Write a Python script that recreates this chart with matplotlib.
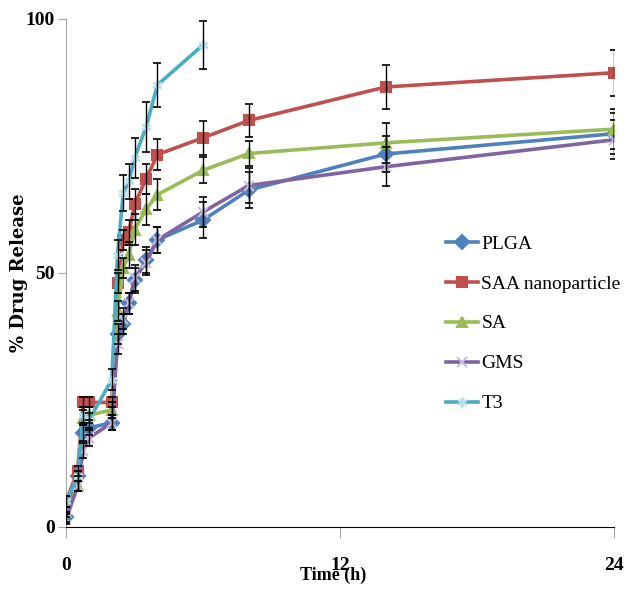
import matplotlib
matplotlib.use("Agg")
import matplotlib.pyplot as plt

# sampling times (h)
time = [0, 0.5, 0.75, 1, 2, 2.25, 2.5, 2.75, 3, 3.5, 4, 6, 8, 14, 24]
time_t3 = time[:12]

# % drug release per formulation
plga = [2, 10, 18.5, 19.5, 20.5, 38, 40, 44, 48.5, 52.5, 56.5, 60.4, 66.3, 73.4, 77.4]
saa = [5, 11, 24.5, 24.5, 24.5, 48, 56.5, 58, 63.5, 68.5, 73.3, 76.6, 80, 86.6, 89.4]
sa = [3, 8, 21.5, 22, 23, 42.5, 51, 53.5, 58.5, 62.5, 65.4, 70.2, 73.5, 75.6, 78.3]
gms = [1.5, 8, 15, 17.5, 20.5, 36, 41, 44, 49, 52, 56.5, 62, 67.2, 70.9, 76.2]
t3 = [5, 10, 22, 21, 29, 53.5, 65.7, 68, 72.6, 78.7, 87, 94.9]

# standard deviations (error bars)
plga_err = [1, 1, 1.5, 1.5, 1.5, 2, 2, 2, 2.5, 2.5, 2.5, 3.5, 3.5, 3.6, 4]
saa_err = [1, 1, 1, 1, 1, 2, 2, 2.5, 3, 3, 3, 3.3, 3.3, 4.4, 4.5]
sa_err = [1, 1, 1.5, 1.5, 1.5, 2, 2, 2.5, 3, 3, 3, 2.6, 2.5, 3.9, 4]
gms_err = [1, 1, 1.5, 1.5, 1.5, 2, 2, 2, 2.5, 2.5, 2.5, 3, 3.5, 3.8, 3.8]
t3_err = [1, 1, 1.5, 1.5, 2, 3, 3.5, 3.5, 3.9, 5, 4.4, 4.7]

series = [
    ("PLGA", time, plga, plga_err, "#4F81BD", "D", "#4F81BD"),
    ("SAA nanoparticle", time, saa, saa_err, "#C0504D", "s", "#C0504D"),
    ("SA", time, sa, sa_err, "#9BBB59", "^", "#9BBB59"),
    ("GMS", time, gms, gms_err, "#8064A2", "x", "#C9BEDD"),
    ("T3", time_t3, t3, t3_err, "#4BACC6", (6, 2, 0), "#B7E1EC"),
]

plt.rcParams["font.family"] = ["Liberation Serif", "DejaVu Serif"]

fig = plt.figure(figsize=(6.24, 5.90), dpi=100)
ax = fig.add_axes([0.106, 0.107, 0.878, 0.861])

for name, x, y, e, c, m, mc in series:
    ax.plot(x, y, color=c, lw=2.6, marker=m, ms=7, mfc=mc, mec=mc, mew=1.5,
            label=name, zorder=3)
    ax.errorbar(x, y, yerr=e, fmt="none", ecolor="black", elinewidth=1,
                capsize=3, capthick=1.2, zorder=4)

ax.set_xlim(0, 24)
ax.set_ylim(0, 100)
ax.set_xticks([0, 12, 24])
ax.set_yticks([0, 50, 100])
for s in ("top", "right"):
    ax.spines[s].set_visible(False)
ax.spines["left"].set_color("#a6a6a6")
ax.spines["bottom"].set_color("black")
ax.tick_params(axis="y", direction="out", length=6, color="#a6a6a6", pad=2,
               labelsize=14)
ax.tick_params(axis="x", direction="out", length=8, color="#a6a6a6", pad=14,
               labelsize=14)
for lab in ax.get_xticklabels() + ax.get_yticklabels():
    lab.set_fontweight("bold")

ax.set_ylabel("% Drug Release", fontsize=13, fontweight="bold",
              family=["DejaVu Serif"])
ax.yaxis.set_label_coords(-0.07, 0.5)
ax.set_xlabel("Time (h)", fontsize=13, fontweight="bold")
ax.xaxis.set_label_coords(0.488, -0.078)

ax.legend(loc="upper left", bbox_to_anchor=(0.68, 0.59), frameon=False,
          fontsize=14, handlelength=1.6, handletextpad=0.2, labelspacing=1.15,
          borderaxespad=0)

fig.savefig("out.png", dpi=100)
